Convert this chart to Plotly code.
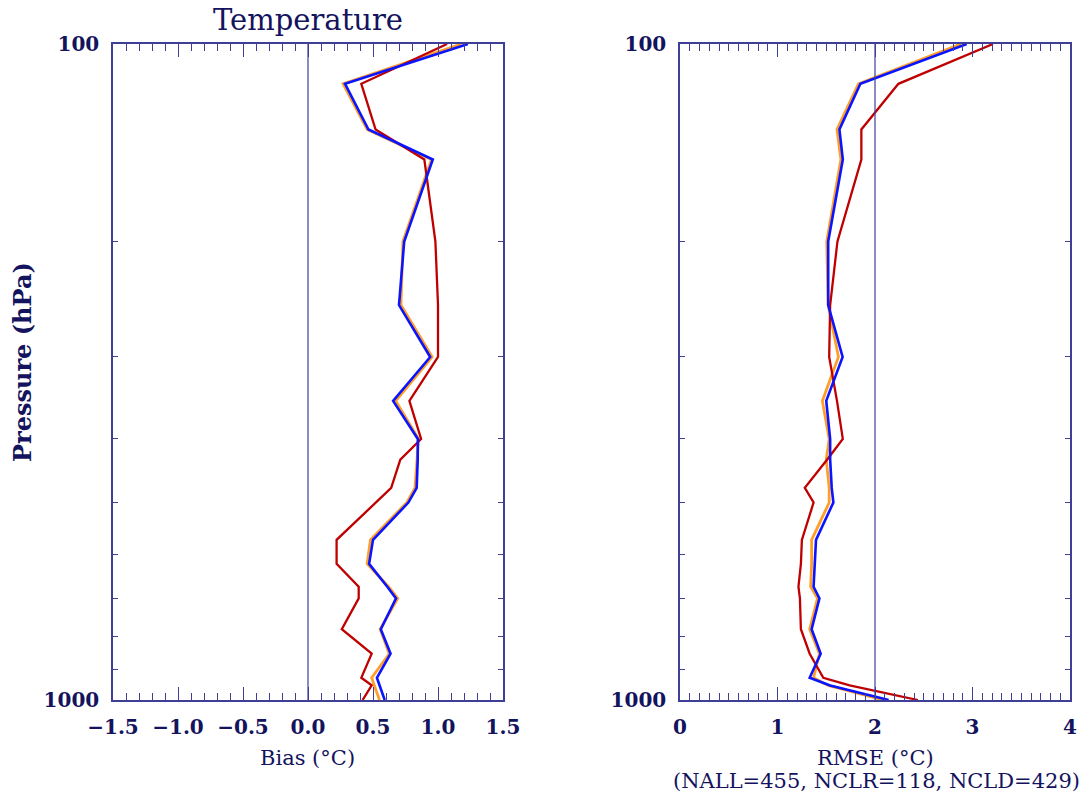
import plotly.graph_objects as go

# ---- data ----
pressure = [100, 115, 135, 150, 200, 250, 300, 350, 400, 430, 475, 500,
            570, 620, 672, 700, 780, 850, 925, 950, 1000]

bias_all = [1.18, 0.27, 0.455, 0.95, 0.73, 0.715, 0.955, 0.675, 0.85, 0.84, 0.823, 0.76,
            0.48, 0.455, 0.62, 0.69, 0.555, 0.625, 0.49, 0.51, 0.55]
bias_clr = [1.07, 0.41, 0.52, 0.895, 0.98, 1.00, 1.00, 0.78, 0.87, 0.71, 0.64, 0.52,
            0.22, 0.22, 0.39, 0.39, 0.26, 0.49, 0.41, 0.49, 0.42]
bias_cld = [1.23, 0.285, 0.465, 0.96, 0.74, 0.70, 0.94, 0.655, 0.845, 0.844, 0.836, 0.772,
            0.50, 0.47, 0.61, 0.677, 0.56, 0.635, 0.53, 0.55, 0.59]

rmse_all = [2.88, 1.83, 1.61, 1.65, 1.505, 1.52, 1.625, 1.46, 1.53, 1.50, 1.53, 1.53,
            1.35, 1.35, 1.34, 1.41, 1.33, 1.43, 1.37, 1.52, 2.085]
rmse_clr = [3.21, 2.24, 1.86, 1.86, 1.615, 1.54, 1.53, 1.61, 1.67, 1.51, 1.28, 1.37,
            1.25, 1.24, 1.215, 1.23, 1.24, 1.33, 1.47, 1.74, 2.44]
rmse_cld = [2.94, 1.85, 1.635, 1.67, 1.52, 1.52, 1.668, 1.50, 1.54, 1.54, 1.556, 1.573,
            1.395, 1.38, 1.37, 1.43, 1.35, 1.443, 1.33, 1.54, 2.14]

p_ticks = [100, 200, 300, 400, 500, 600, 700, 800, 900, 1000]
p_ticktext = ["100", "", "", "", "", "", "", "", "", "1000"]
bias_ticks = [-1.5, -1.0, -0.5, 0.0, 0.5, 1.0, 1.5]
bias_ticktext = ["\u22121.5", "\u22121.0", "\u22120.5", "0.0", "0.5", "1.0", "1.5"]
rmse_ticks = [0, 1, 2, 3, 4]
rmse_ticktext = ["0", "1", "2", "3", "4"]

W, H = 1087, 796
TXT = "#13135e"
AX = "#3f3f98"
FONT = "DejaVu Serif"
C_ALL, C_CLR, C_CLD = "#ff9f2a", "#bf0000", "#0a14ff"

fig = go.Figure()
for xs, col, wd in [(bias_all, C_ALL, 2.8), (bias_clr, C_CLR, 2.3), (bias_cld, C_CLD, 2.6)]:
    fig.add_trace(go.Scatter(x=xs, y=pressure, mode="lines", line=dict(color=col, width=wd),
                             xaxis="x", yaxis="y", showlegend=False))
for xs, col, wd in [(rmse_all, C_ALL, 2.8), (rmse_clr, C_CLR, 2.3), (rmse_cld, C_CLD, 2.6)]:
    fig.add_trace(go.Scatter(x=xs, y=pressure, mode="lines", line=dict(color=col, width=wd),
                             xaxis="x2", yaxis="y2", showlegend=False))

ydom = [1 - 700 / H, 1 - 44 / H]
common_x = dict(showline=True, linecolor=AX, linewidth=1.5, mirror="ticks", ticks="inside",
                ticklen=13, tickcolor=AX, tickwidth=1.2, showgrid=False, zeroline=False,
                automargin=False,
                tickfont=dict(family=FONT, size=20, color=TXT, weight="bold"),
                ticklabelstandoff=8)
common_y = dict(type="log", range=[3, 2], showline=True, linecolor=AX, linewidth=1.5,
                mirror="ticks", ticks="inside", ticklen=5, tickcolor=AX, tickwidth=1.2,
                showgrid=False, zeroline=False, tickmode="array", tickvals=p_ticks,
                automargin=False,
                ticktext=p_ticktext,
                tickfont=dict(family=FONT, size=20, color=TXT, weight="bold"),
                ticklabelstandoff=8)

fig.update_layout(
    width=W, height=H, margin=dict(l=0, r=0, t=0, b=0, autoexpand=False),
    paper_bgcolor="white", plot_bgcolor="white",
    xaxis=dict(domain=[113 / W, 503 / W], range=[-1.5, 1.5], anchor="y",
               tickmode="array", tickvals=bias_ticks, ticktext=bias_ticktext,
               minor=dict(tickmode="linear", tick0=-1.5, dtick=0.1, ticks="inside",
                          ticklen=7, tickcolor=AX, tickwidth=1.2, showgrid=False),
               **common_x),
    yaxis=dict(domain=ydom, anchor="x", **common_y),
    xaxis2=dict(domain=[680 / W, 1070 / W], range=[0, 4], anchor="y2",
                tickmode="array", tickvals=rmse_ticks, ticktext=rmse_ticktext,
                minor=dict(tickmode="linear", tick0=0, dtick=0.1, ticks="inside",
                           ticklen=7, tickcolor=AX, tickwidth=1.2, showgrid=False),
                **common_x),
    yaxis2=dict(domain=ydom, anchor="x2", **common_y),
    shapes=[
        dict(type="line", xref="x", yref="y domain", x0=0, x1=0, y0=0, y1=1,
             line=dict(color=AX, width=1.2)),
        dict(type="line", xref="x2", yref="y2 domain", x0=2, x1=2, y0=0, y1=1,
             line=dict(color=AX, width=1.2)),
    ],
)

def ann(text, x, y, size, angle=0, weight="normal"):
    fig.add_annotation(text=text, x=x / W, y=1 - y / H, xref="paper", yref="paper",
                       showarrow=False, xanchor="center", yanchor="middle",
                       textangle=angle,
                       font=dict(family=FONT, size=size, color=TXT, weight=weight))

ann("Temperature", 308, 20, 29)
ann("Pressure (hPa)", 22, 362, 24, -90, "bold")
ann("Bias (\u00b0C)", 307, 758, 21)
ann("RMSE (\u00b0C)", 875, 758, 21)
ann("(NALL=455, NCLR=118, NCLD=429)", 876, 781, 21)

fig.write_html("out.html", config={"displayModeBar": False},
               post_script="document.body.style.margin='0px';document.body.style.padding='0px';")
